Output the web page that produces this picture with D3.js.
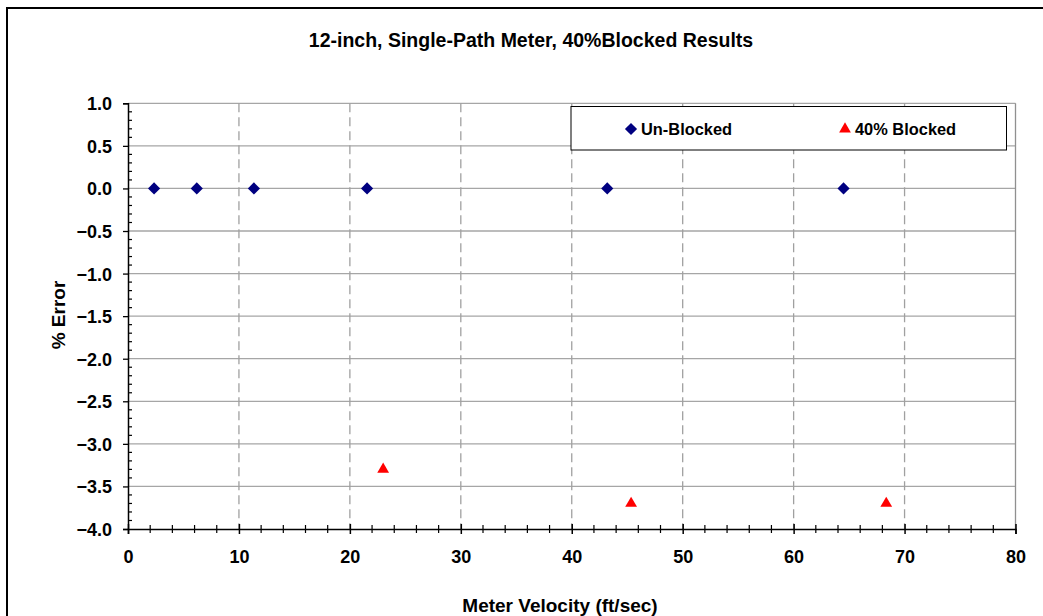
<!DOCTYPE html>
<html>
<head>
<meta charset="utf-8">
<script src="https://cdn.jsdelivr.net/npm/d3@7"></script>
<style>
  body { margin: 0; background: #fff; }
  svg text { font-family: "Liberation Sans", Arial, sans-serif; font-weight: bold; }
</style>
</head>
<body>
<div id="chart"></div>
<script>
// data
var unblockedVel = [2.35, 6.2, 11.35, 21.55, 43.2, 64.5];
var unblockedErr = [0, 0, 0, 0, 0, 0];
var blockedVel = [23.0, 45.35, 68.35];
var blockedErr = [-3.3, -3.7, -3.7];
var xTicks = [0, 10, 20, 30, 40, 50, 60, 70, 80];
var yTicks = [1.0, 0.5, 0.0, -0.5, -1.0, -1.5, -2.0, -2.5, -3.0, -3.5, -4.0];
var seriesNames = ["Un-Blocked", "40% Blocked"];

var W = 1043, H = 616;
var plotL = 128, plotR = 1015.5, plotT = 103.3, plotB = 529;

var svg = d3.select('#chart')
  .append("svg")
  .attr("width", W)
  .attr("height", H);

// outer chart border
svg.append("rect")
  .attr("x", 7).attr("y", 8)
  .attr("width", 1050).attr("height", 640)
  .attr("fill", "none")
  .attr("stroke", "#000")
  .attr("stroke-width", 2);

var x = d3.scaleLinear().domain([0, 80]).range([plotL, plotR]);
var y = d3.scaleLinear().domain([-4, 1]).range([plotB, plotT]);

// horizontal grid
svg.append("g").selectAll("line")
  .data(yTicks.filter(function(d) { return d > -4; }))
  .enter().append("line")
  .attr("x1", plotL).attr("x2", plotR)
  .attr("y1", function(d) { return y(d); })
  .attr("y2", function(d) { return y(d); })
  .attr("stroke", "#a6a6a6")
  .attr("stroke-width", 1.3);

// vertical dashed grid
svg.append("g").selectAll("line")
  .data(xTicks.filter(function(d) { return d > 0 && d < 80; }))
  .enter().append("line")
  .attr("x1", function(d) { return x(d); })
  .attr("x2", function(d) { return x(d); })
  .attr("y1", plotT).attr("y2", plotB)
  .attr("stroke", "#a0a0a0")
  .attr("stroke-width", 1.3)
  .attr("stroke-dasharray", "9,5");

// right border of the plot area
svg.append("line")
  .attr("x1", plotR).attr("x2", plotR)
  .attr("y1", plotT).attr("y2", plotB)
  .attr("stroke", "#909090")
  .attr("stroke-width", 1.3);

// y axis
var yAxis = svg.append("g")
  .attr("transform", "translate(" + plotL + ",0)")
  .call(d3.axisLeft(y).tickValues(yTicks).tickFormat(d3.format(".1f")).tickSize(5).tickPadding(11));
yAxis.select(".domain").attr("stroke", "#000").attr("stroke-width", 1.5);
yAxis.selectAll(".tick line").attr("stroke-width", 1.3);
yAxis.selectAll("text").style("font-size", "18px").attr("fill", "#000").attr("dy", "0.36em");

var yMinor = d3.range(-40, 11).map(function(d) { return d / 10; }).filter(function(d) { return Math.round(d * 10) % 5 != 0; });
svg.append("g").selectAll("line")
  .data(yMinor)
  .enter().append("line")
  .attr("x1", plotL).attr("x2", plotL + 4)
  .attr("y1", function(d) { return y(d); })
  .attr("y2", function(d) { return y(d); })
  .attr("stroke", "#000")
  .attr("stroke-width", 1.2);

// x axis
var xAxis = svg.append("g")
  .attr("transform", "translate(0," + plotB + ")")
  .call(d3.axisBottom(x).tickValues(xTicks).tickSize(5).tickPadding(16));
xAxis.select(".domain").attr("stroke", "#000").attr("stroke-width", 1.5);
xAxis.selectAll(".tick line").attr("y1", -5).attr("stroke-width", 1.5);
xAxis.selectAll("text").style("font-size", "18px").attr("fill", "#000");

var xMinor = d3.range(0, 81, 2).filter(function(d) { return d % 10 != 0; });
svg.append("g").selectAll("line")
  .data(xMinor)
  .enter().append("line")
  .attr("x1", function(d) { return x(d); })
  .attr("x2", function(d) { return x(d); })
  .attr("y1", plotB - 4).attr("y2", plotB + 4)
  .attr("stroke", "#000")
  .attr("stroke-width", 1.2);

// points
var unblocked = unblockedVel.map(function(v, i) { return { v: v, e: unblockedErr[i] }; });
var blocked = blockedVel.map(function(v, i) { return { v: v, e: blockedErr[i] }; });

var diamond = d3.symbol().type(d3.symbolSquare).size(74);
var triangle = d3.symbol().type(d3.symbolTriangle).size(60);

svg.append("g").selectAll("path")
  .data(unblocked)
  .enter().append("path")
  .attr("d", diamond)
  .attr("transform", function(d) { return "translate(" + x(d.v) + "," + y(d.e) + ") rotate(45)"; })
  .attr("fill", "#000080");

svg.append("g").selectAll("path")
  .data(blocked)
  .enter().append("path")
  .attr("d", triangle)
  .attr("transform", function(d) { return "translate(" + x(d.v) + "," + y(d.e) + ")"; })
  .attr("fill", "#ff0000");

// legend
var lg = svg.append("g");
lg.append("rect")
  .attr("x", 571).attr("y", 106.5)
  .attr("width", 435.5).attr("height", 43.5)
  .attr("fill", "#fff")
  .attr("stroke", "#000")
  .attr("stroke-width", 1);
lg.append("path").attr("d", diamond).attr("transform", "translate(631,129) rotate(45)").attr("fill", "#000080");
lg.append("text").attr("x", 641).attr("y", 135).style("font-size", "16.4px").text(seriesNames[0]);
lg.append("path").attr("d", triangle).attr("transform", "translate(845,129)").attr("fill", "#ff0000");
lg.append("text").attr("x", 855).attr("y", 135).style("font-size", "16.4px").text(seriesNames[1]);

// titles
svg.append("text")
  .attr("x", 531).attr("y", 47)
  .attr("text-anchor", "middle")
  .style("font-size", "19.5px")
  .text("12-inch, Single-Path Meter, 40%Blocked Results");

svg.append("text")
  .attr("x", 560).attr("y", 612)
  .attr("text-anchor", "middle")
  .style("font-size", "19px")
  .text("Meter Velocity (ft/sec)");

svg.append("text")
  .attr("transform", "translate(65,315) rotate(-90)")
  .attr("text-anchor", "middle")
  .style("font-size", "19px")
  .text("% Error");
</script>
</body>
</html>
